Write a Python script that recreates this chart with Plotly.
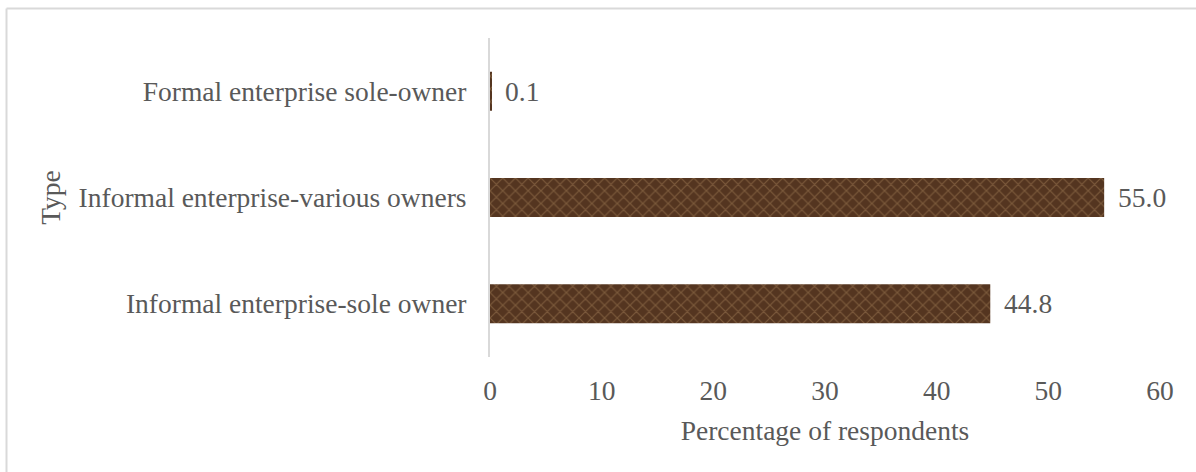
import plotly.graph_objects as go

categories = ["Informal enterprise-sole owner", "Informal enterprise-various owners", "Formal enterprise sole-owner"]
values = [44.8, 55.0, 0.1]
x_ticks = [0, 10, 20, 30, 40, 50, 60]

W, H = 1196, 472
ML, MR, MT, MB = 490, 36, 38, 115
pw, ph = W - ML - MR, H - MT - MB

def px(x):
    return (x - ML) / pw

def py(y):
    return (H - MB - y) / ph

FONT = "Liberation Serif, Times New Roman, serif"
FS = 27.5
GRAY = "#595959"

fig = go.Figure(go.Bar(
    y=categories, x=values, orientation="h", width=0.366,
    marker=dict(color="#5b3a22", line=dict(width=0),
                pattern=dict(shape="x", fgcolor="#94714d", bgcolor="#543520",
                             size=9, solidity=0.25, fgopacity=0.6)),
    hoverinfo="x+y",
))

for c, v in zip(categories, values):
    fig.add_annotation(x=v, y=c, text=f"{v:.1f}", showarrow=False,
                       xanchor="left", xshift=12,
                       font=dict(family=FONT, size=FS, color=GRAY))

fig.update_layout(
    width=W, height=H, margin=dict(l=ML, r=MR, t=MT, b=MB),
    paper_bgcolor="white", plot_bgcolor="white", showlegend=False,
    font=dict(family=FONT, size=FS, color=GRAY),
    xaxis=dict(range=[0, 60], tickvals=x_ticks, showgrid=False, zeroline=False,
               showline=False, ticks="", ticklabelstandoff=14,
               title=dict(text="Percentage of respondents", standoff=16,
                          font=dict(family=FONT, size=FS, color=GRAY))),
    yaxis=dict(showgrid=False, zeroline=False, showline=True, linecolor="#d9d9d9",
               linewidth=2, ticks="", ticklabelstandoff=16,
               title=dict(text="Type", standoff=10,
                          font=dict(family=FONT, size=FS, color=GRAY))),
    shapes=[
        dict(type="line", xref="paper", yref="paper", x0=px(6.5), x1=px(W + 5),
             y0=py(8.5), y1=py(8.5), line=dict(color="#d9d9d9", width=2)),
        dict(type="line", xref="paper", yref="paper", x0=px(6.5), x1=px(6.5),
             y0=py(8.5), y1=py(H + 5), line=dict(color="#d9d9d9", width=2)),
    ],
)

fig.write_html("out.html")
